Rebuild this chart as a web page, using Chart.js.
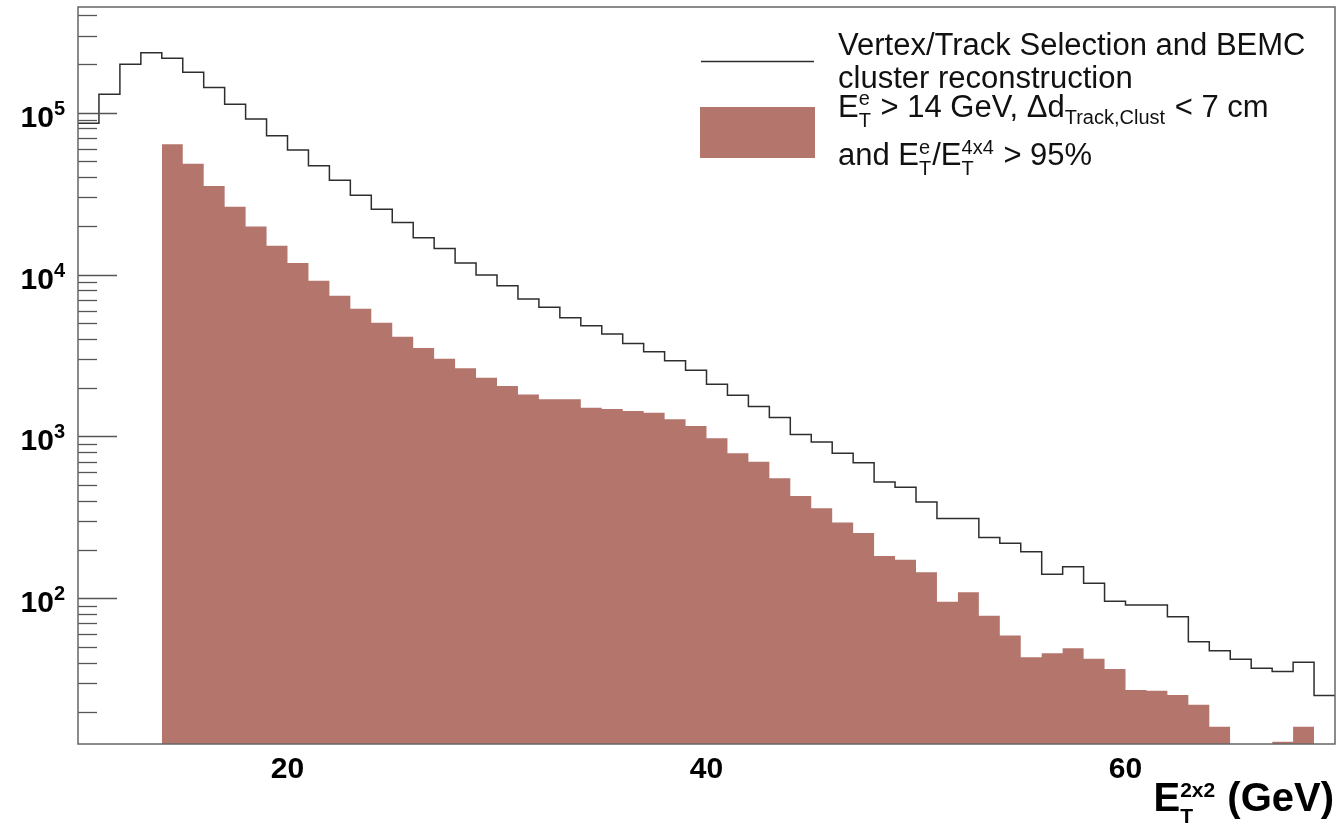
<!DOCTYPE html>
<html>
<head>
<meta charset="utf-8">
<title>E_T 2x2 spectrum</title>
<style>
  body { margin: 0; background: #fff; }
  canvas { display: block; }
</style>
</head>
<body>
<canvas id="hist" width="1340" height="826"></canvas>

<script src="https://cdn.jsdelivr.net/npm/chart.js"></script>
<script>
// lower edge of every 1 GeV bin
const binStart = [10, 11, 12, 13, 14, 15, 16, 17, 18, 19,
                  20, 21, 22, 23, 24, 25, 26, 27, 28, 29,
                  30, 31, 32, 33, 34, 35, 36, 37, 38, 39,
                  40, 41, 42, 43, 44, 45, 46, 47, 48, 49,
                  50, 51, 52, 53, 54, 55, 56, 57, 58, 59,
                  60, 61, 62, 63, 64, 65, 66, 67, 68, 69];
const binWidth = 1;

// Vertex/Track selection + BEMC cluster reconstruction (outline)
const allCounts = [86000, 130000, 199000, 235000, 217000, 178000, 143000, 113000, 91400, 72100,
                   58800, 47100, 38300, 30900, 25300, 21000, 16900, 14500, 11800, 9940,
                   8540, 7070, 6280, 5420, 4830, 4300, 3760, 3340, 2940, 2570,
                   2100, 1800, 1530, 1310, 1030, 925, 787, 689, 524, 486,
                   394, 311, 311, 238, 219, 194, 141, 157, 124, 96,
                   91, 91, 77, 54, 47.5, 42, 37, 35.3, 40.3, 25.1];

// after the E_T, track-cluster distance and isolation cuts (filled)
const selCounts = [null, null, null, null, 63800, 48400, 35300, 26300, 19800, 15100,
                   11800, 9170, 7410, 6160, 5040, 4135, 3520, 3020, 2640, 2310,
                   2050, 1820, 1700, 1700, 1506, 1478, 1437, 1403, 1277, 1161,
                   974, 787, 699, 552, 429, 360, 294, 253, 183, 173,
                   145, 95.4, 109, 78.2, 58.9, 43.3, 45.8, 49.2, 42.3, 36.6,
                   27.2, 26.9, 25.3, 22.0, 16.1, null, null, 13.0, 16.1, null];

const xTickValues = [20, 40, 60];
const yMajor = [100, 1000, 10000, 100000];
const yExponents = ['2', '3', '4', '5'];
const yMin = 12.6;
const yMax = 450000;

const fillColor = 'rgb(180, 117, 108)';
const lineColor = '#2e2e2e';

// turn bin contents into step points (left and right edge of each bin)
function stepPoints(counts) {
    const pts = [];
    counts.forEach((c, i) => {
        if (c === null) {
            pts.push({ x: binStart[i], y: null });
            return;
        }
        pts.push({ x: binStart[i], y: c });
        pts.push({ x: binStart[i] + binWidth, y: c });
    });
    return pts;
}

// minor ticks 2..9 x 10^n inside the axis range
const yMinor = [];
for (let e = 1; e <= 5; e++) {
    for (let m = 2; m <= 9; m++) {
        const v = m * Math.pow(10, e);
        if (v > yMin && v < yMax) yMinor.push(v);
    }
}

// text with ROOT-like sub/superscripts
function drawRich(ctx, x, y, parts, big, small, supDy, subDy, align) {
    const widths = parts.map(p => {
        if (typeof p === 'string') {
            ctx.font = big;
            return ctx.measureText(p).width;
        }
        ctx.font = small;
        const a = p.sub ? ctx.measureText(p.sub).width : 0;
        const b = p.sup ? ctx.measureText(p.sup).width : 0;
        return Math.max(a, b) + 1;
    });
    let cx = x;
    if (align === 'right') cx = x - widths.reduce((s, w) => s + w, 0);
    parts.forEach((p, i) => {
        if (typeof p === 'string') {
            ctx.font = big;
            ctx.fillText(p, cx, y);
        } else {
            ctx.font = small;
            if (p.sup) ctx.fillText(p.sup, cx, y - supDy);
            if (p.sub) ctx.fillText(p.sub, cx, y + (p.dy || subDy));
        }
        cx += widths[i];
    });
}

const rootStyle = {
    id: 'rootStyle',
    afterDraw(chart) {
        const ctx = chart.ctx;
        const area = chart.chartArea;
        const yScale = chart.scales.y;
        ctx.save();
        ctx.textAlign = 'left';
        ctx.textBaseline = 'alphabetic';

        // y tick marks pointing into the frame
        ctx.strokeStyle = '#555';
        ctx.lineWidth = 1.3;
        yScale.ticks.forEach(t => {
            const py = Math.round(yScale.getPixelForValue(t.value)) + 0.5;
            const len = yMajor.includes(t.value) ? 39 : 19;
            ctx.beginPath();
            ctx.moveTo(area.left, py);
            ctx.lineTo(area.left + len, py);
            ctx.stroke();
        });

        // y labels 10^n
        ctx.fillStyle = '#000';
        yMajor.forEach((v, i) => {
            const py = yScale.getPixelForValue(v);
            drawRich(ctx, 66, py + 14, ['10', { sup: yExponents[i] }],
                'bold 30px "Liberation Sans", Arial, sans-serif',
                'bold 20px "Liberation Sans", Arial, sans-serif', 12, 0, 'right');
        });

        // frame
        ctx.strokeStyle = '#666';
        ctx.lineWidth = 1.5;
        ctx.strokeRect(area.left, area.top, area.right - area.left, area.bottom - area.top);

        // legend
        ctx.strokeStyle = lineColor;
        ctx.lineWidth = 1.5;
        ctx.beginPath();
        ctx.moveTo(701, 61.5);
        ctx.lineTo(814, 61.5);
        ctx.stroke();
        ctx.fillStyle = fillColor;
        ctx.fillRect(700, 107, 115, 51);

        ctx.fillStyle = '#111';
        const big = '31px "Liberation Sans", Arial, sans-serif';
        const small = '20px "Liberation Sans", Arial, sans-serif';
        ctx.font = big;
        ctx.fillText('Vertex/Track Selection and BEMC', 838, 55);
        ctx.fillText('cluster reconstruction', 838, 88);
        drawRich(ctx, 838, 117, ['E', { sub: 'T', sup: 'e' }, ' > 14 GeV, \u0394d',
            { sub: 'Track,Clust', dy: 7 }, ' < 7 cm'], big, small, 12, 10);
        drawRich(ctx, 838, 165, ['and E', { sub: 'T', sup: 'e' }, '/E',
            { sub: 'T', sup: '4x4' }, ' > 95%'], big, small, 11, 10);

        // x axis title
        ctx.fillStyle = '#000';
        drawRich(ctx, 1334, 811, ['E', { sub: 'T', sup: '2x2' }, ' (GeV)'],
            'bold 40px "Liberation Sans", Arial, sans-serif',
            'bold 21px "Liberation Sans", Arial, sans-serif', 14, 12, 'right');

        ctx.restore();
    }
};

const ctx = document.getElementById('hist').getContext('2d');
const histChart = new Chart(ctx, {
    type: 'line',
    data: {
        datasets: [
            {
                label: 'selected',
                data: stepPoints(selCounts),
                borderWidth: 0,
                backgroundColor: fillColor,
                fill: 'start',
                pointRadius: 0,
                tension: 0,
                spanGaps: false
            },
            {
                label: 'all',
                data: stepPoints(allCounts),
                borderColor: lineColor,
                borderWidth: 1.5,
                fill: false,
                pointRadius: 0,
                tension: 0
            }
        ]
    },
    options: {
        responsive: false,
        animation: false,
        layout: { padding: { top: 7, right: 5, left: 0, bottom: 0 } },
        plugins: {
            legend: { display: false },
            tooltip: { enabled: false }
        },
        scales: {
            x: {
                type: 'linear',
                min: 10,
                max: 70,
                grid: { display: false, drawTicks: false },
                border: { display: false },
                afterBuildTicks: scale => {
                    scale.ticks = xTickValues.map(v => ({ value: v }));
                },
                afterFit: scale => {
                    scale.height = 82;
                    scale.paddingLeft = 0;
                    scale.paddingRight = 0;
                },
                ticks: {
                    color: '#000',
                    padding: 8,
                    maxRotation: 0,
                    autoSkip: false,
                    font: { family: 'Liberation Sans', size: 30, weight: 'bold' }
                }
            },
            y: {
                type: 'logarithmic',
                min: yMin,
                max: yMax,
                grid: { display: false, drawTicks: false },
                border: { display: false },
                afterBuildTicks: scale => {
                    scale.ticks = yMajor.concat(yMinor).sort((a, b) => a - b).map(v => ({ value: v }));
                },
                afterFit: scale => {
                    scale.width = 78;
                    scale.paddingTop = 0;
                    scale.paddingBottom = 0;
                },
                ticks: { display: false }
            }
        }
    },
    plugins: [rootStyle]
});
</script>
</body>
</html>
